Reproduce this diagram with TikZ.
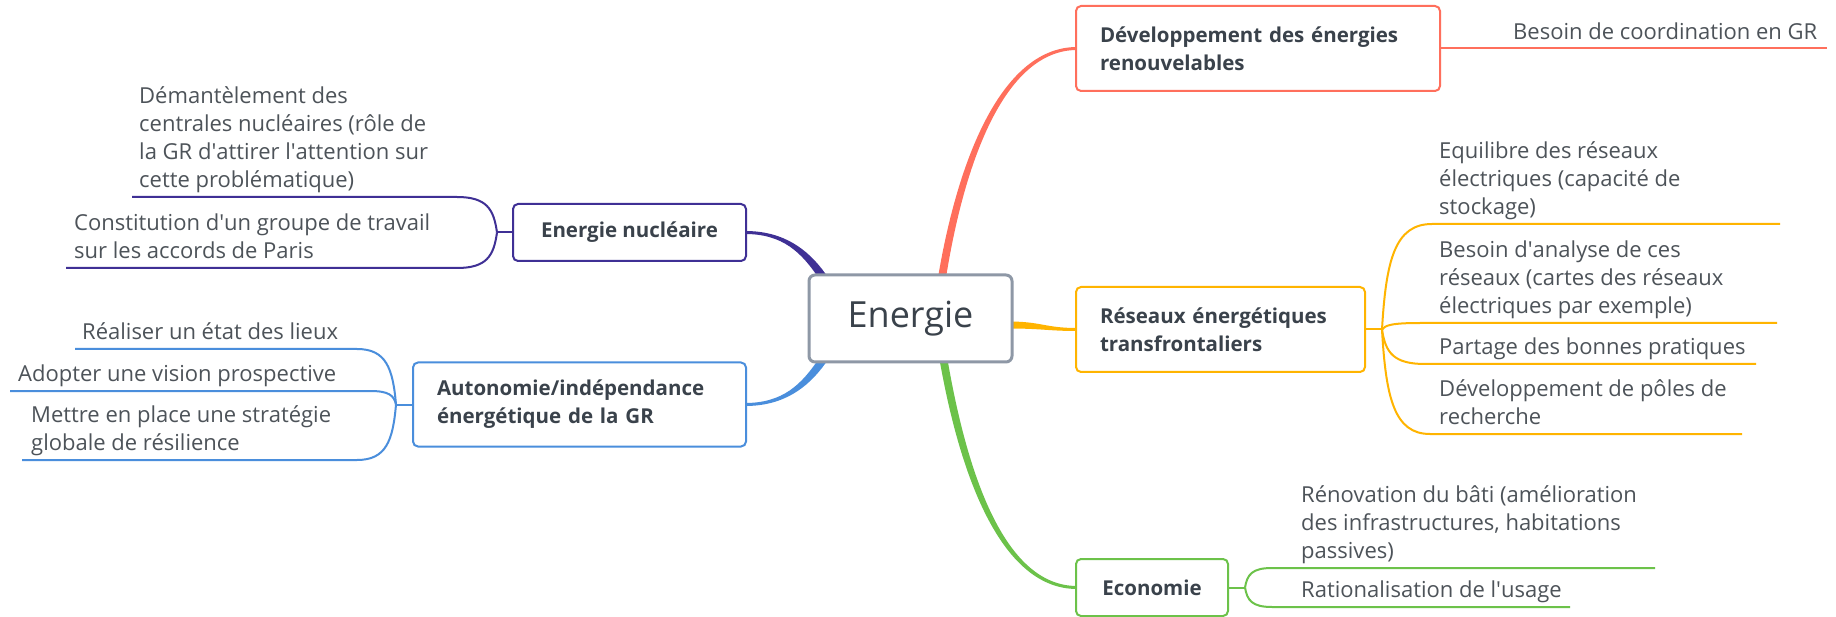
\documentclass[tikz,border=0pt]{standalone}
\usepackage{fontspec}
\setmainfont{Open Sans}
\usetikzlibrary{calc}
\pgfdeclarelayer{bg}
\pgfsetlayers{bg,main}
\definecolor{cRed}{HTML}{FF6F5C}
\definecolor{cPur}{HTML}{3F3095}
\definecolor{cBlu}{HTML}{4A8EDC}
\definecolor{cYel}{HTML}{FFB400}
\definecolor{cGrn}{HTML}{6CC24A}
\definecolor{cRoot}{HTML}{8E98A6}
\definecolor{cTxt}{HTML}{4D5359}
\definecolor{cBox}{HTML}{3A424B}
\newcommand\dstrut{\rule[-9pt]{0pt}{1pt}}
\newcommand\ap{\textquotesingle}
\begin{document}
\begin{tikzpicture}[x=1pt,y=-1pt,
  box/.style={draw, fill=white, line width=2pt, rounded corners=5pt, align=center, text=cBox,
    font=\fontsize{20.5}{28}\selectfont\bfseries, inner sep=0pt},
  wbox/.style={box, align=left, inner xsep=24pt, text width=#1},
  leaf/.style={anchor=south west, inner sep=0pt, align=left, text=cTxt,
    font=\fontsize{22}{28}\selectfont},
  twig/.style={to path={let \p1=(\tikztostart),\p2=(\tikztotarget) in
    .. controls ({\x1+0.08*(\x2-\x1)},{\y1+0.66*(\y2-\y1)}) and ({\x1+0.26*(\x2-\x1)},\y2) .. (\tikztotarget)}},
  leafline/.style={line width=2pt}
]
\begin{pgfonlayer}{bg}
\fill[white] (0,0) rectangle (1836,617);
\end{pgfonlayer}
\useasboundingbox (0,0) rectangle (1836,617);

% main nodes
\node[box, draw=cRoot, line width=3pt, rounded corners=6pt, minimum width=203pt, minimum height=87pt,
  font=\fontsize{36}{40}\selectfont, text=cBox] (root) at (910.5,318.5) {Energie};
\node[wbox=316pt, draw=cRed, minimum height=85pt] (dev) at (1258,48.5) {\mbox{Développement des énergies}\\renouvelables};
\node[wbox=241pt, draw=cYel, minimum height=85pt] (res) at (1220.5,329.5) {\mbox{Réseaux énergétiques}\\transfrontaliers};
\node[box, draw=cGrn, minimum width=152pt, minimum height=57pt] (eco) at (1152,587.5) {Economie};
\node[box, draw=cPur, minimum width=233pt, minimum height=57pt] (nuc) at (629.5,232.5) {Energie nucléaire};
\node[wbox=285pt, draw=cBlu, minimum height=84pt] (aut) at (579.5,404.5) {\mbox{Autonomie/indépendance}\\\mbox{énergétique de la GR}};

% leaves
\node[leaf] (t1) at (139,197) {Démantèlement des\\centrales nucléaires (rôle de\\la GR d\ap attirer l\ap attention sur\\cette problématique)\dstrut};
\node[leaf] (t2) at (74,268) {Constitution d\ap un groupe de travail\\sur les accords de Paris\dstrut};
\node[leaf] (t3) at (82,349) {Réaliser un état des lieux\dstrut};
\node[leaf] (t4) at (18,391) {Adopter une vision prospective\dstrut};
\node[leaf] (t5) at (31,460) {Mettre en place une stratégie\\globale de résilience\dstrut};
\node[leaf] (t6) at (1439,224) {Equilibre des réseaux\\électriques (capacité de\\stockage)\dstrut};
\node[leaf] (t7) at (1439,323) {Besoin d\ap analyse de ces\\réseaux (cartes des réseaux\\électriques par exemple)\dstrut};
\node[leaf] (t8) at (1439,364) {Partage des bonnes pratiques\dstrut};
\node[leaf] (t9) at (1439,434) {Développement de pôles de\\recherche\dstrut};
\node[leaf] (t10) at (1301,568) {Rénovation du bâti (amélioration\\des infrastructures, habitations\\passives)\dstrut};
\node[leaf] (t11) at (1301,607) {Rationalisation de l\ap usage\dstrut};
\node[leaf] (t12) at (1513,49) {Besoin de coordination en GR\dstrut};

% junctions and line ends
\coordinate (J1) at (497,232.5);
\coordinate (J2) at (396,404.5);
\coordinate (J3) at (1382,329.5);
\coordinate (J4) at (1245,587.5);
\coordinate (a1) at (457,197);  \coordinate (b1) at (132,197);
\coordinate (a2) at (457,268);  \coordinate (b2) at (66,268);
\coordinate (a3) at (357,349);  \coordinate (b3) at (75,349);
\coordinate (a4) at (370,391);  \coordinate (b4) at (10,391);
\coordinate (a5) at (357,460);  \coordinate (b5) at (22,460);
\coordinate (a6) at (1432,224); \coordinate (b6) at (1780,224);
\coordinate (a7) at (1420,323); \coordinate (b7) at (1777,323);
\coordinate (a8) at (1425,364); \coordinate (b8) at (1756,364);
\coordinate (a9) at (1430,434); \coordinate (b9) at (1742,434);
\coordinate (a10) at (1272,568); \coordinate (b10) at (1655,568);
\coordinate (a11) at (1272,607); \coordinate (b11) at (1570,607);
\coordinate (b12) at (1827,48.5);

\begin{pgfonlayer}{bg}
% tapered main branches
\fill[cRed] ($(root.north)+(27.5,4)$) .. controls ($(root.north)+(48,-118)$) and ($(dev.west)+(-72,-1.5)$) .. ($(dev.west)+(2,-1.5)$)
  -- ($(dev.west)+(2,1.5)$) .. controls ($(dev.west)+(-68,1.5)$) and ($(root.north)+(55,-118)$) .. ($(root.north)+(35.5,4)$) -- cycle;
\fill[cGrn] ($(root.south)+(29,-4)$) .. controls ($(root.south)+(50.5,118)$) and ($(eco.west)+(-72,1.5)$) .. ($(eco.west)+(2,1.5)$)
  -- ($(eco.west)+(2,-1.5)$) .. controls ($(eco.west)+(-68,-1.5)$) and ($(root.south)+(58,118)$) .. ($(root.south)+(37,-4)$) -- cycle;
\fill[cYel] ($(root.east)+(-5,3)$) .. controls ($(root.east)+(28,3)$) and ($(res.west)+(-30,-1.5)$) .. ($(res.west)+(2,-1.5)$)
  -- ($(res.west)+(2,1.5)$) .. controls ($(res.west)+(-26,1.5)$) and ($(root.east)+(28,10)$) .. ($(root.east)+(-5,10)$) -- cycle;
\fill[cPur] ($(nuc.east)+(-2,-1.5)$) .. controls ($(nuc.east)+(36,-1.5)$) and ($(root.north west)+(0,-25)$) .. ($(root.north west)+(18.3,0.7)$)
  -- ($(root.north west)+(11.7,5.3)$) .. controls ($(root.north west)+(-6,-21)$) and ($(nuc.east)+(36,1.5)$) .. ($(nuc.east)+(-2,1.5)$) -- cycle;
\fill[cBlu] ($(aut.east)+(-2,1.5)$) .. controls ($(aut.east)+(36,1.5)$) and ($(root.south west)+(0,25)$) .. ($(root.south west)+(18.3,-0.7)$)
  -- ($(root.south west)+(11.7,-5.3)$) .. controls ($(root.south west)+(-6,21)$) and ($(aut.east)+(36,-1.5)$) .. ($(aut.east)+(-2,-1.5)$) -- cycle;

% sub branches
\draw[leafline, cPur] (nuc.west) -- (J1);
\draw[leafline, cPur] (J1) to[twig] (a1) -- (b1);
\draw[leafline, cPur] (J1) to[twig] (a2) -- (b2);
\draw[leafline, cBlu] (aut.west) -- (J2);
\draw[leafline, cBlu] (J2) to[twig] (a3) -- (b3);
\draw[leafline, cBlu] (J2) to[twig] (a4) -- (b4);
\draw[leafline, cBlu] (J2) to[twig] (a5) -- (b5);
\draw[leafline, cYel] (res.east) -- (J3);
\draw[leafline, cYel] (J3) to[twig] (a6) -- (b6);
\draw[leafline, cYel] (J3) to[twig] (a7) -- (b7);
\draw[leafline, cYel] (J3) to[twig] (a8) -- (b8);
\draw[leafline, cYel] (J3) to[twig] (a9) -- (b9);
\draw[leafline, cGrn] (eco.east) -- (J4);
\draw[leafline, cGrn] (J4) to[twig] (a10) -- (b10);
\draw[leafline, cGrn] (J4) to[twig] (a11) -- (b11);
\draw[leafline, cRed] (dev.east) -- (b12);
\end{pgfonlayer}
\end{tikzpicture}
\end{document}
